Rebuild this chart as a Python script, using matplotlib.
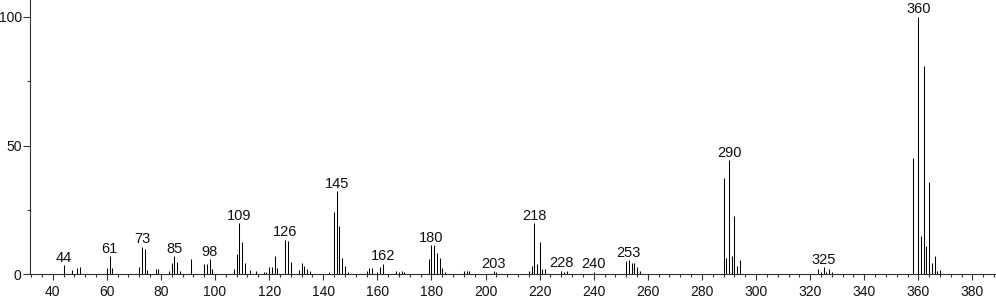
import matplotlib
matplotlib.use("Agg")
import matplotlib.pyplot as plt
from matplotlib.ticker import MultipleLocator

plt.rcParams['font.family'] = ['Liberation Sans', 'DejaVu Sans']

mz = [44, 47, 49, 50, 60, 61, 62, 72, 73, 74, 75, 78, 79, 83, 84, 85, 86, 87, 91,
      96, 97, 98, 99, 107, 108, 109, 110, 111, 113, 115, 118, 119, 120, 121, 122, 123,
      126, 127, 128, 131, 132, 133, 134, 135, 142, 144, 145, 146, 147, 148, 149,
      156, 157, 158, 160, 161, 162, 167, 168, 169, 170, 179, 180, 181, 182, 183, 184, 185,
      192, 193, 194, 203, 204, 216, 217, 218, 219, 220, 221, 222, 228, 229, 230, 240,
      252, 253, 254, 255, 256, 257, 288, 289, 290, 291, 292, 293, 294,
      323, 324, 325, 326, 327, 328, 358, 360, 361, 362, 363, 364, 365, 366, 367, 368]
intensity = [3.5, 1.7, 2.3, 2.7, 2.3, 7.0, 2.3, 2.8, 10.7, 10.0, 1.5, 2.2, 2.2, 1.3, 4.3, 7.0, 4.8, 1.3, 5.9,
             3.9, 4.0, 5.9, 2.1, 2.2, 7.8, 19.8, 12.7, 4.2, 1.5, 1.2, 0.8, 1.0, 2.7, 2.7, 7.0, 2.5,
             13.5, 13.0, 4.6, 1.6, 4.2, 3.2, 2.2, 1.2, 0.8, 24.3, 32.4, 18.7, 6.3, 3.2, 1.0,
             1.3, 2.5, 2.5, 1.0, 3.0, 4.1, 1.3, 1.0, 1.3, 1.0, 6.0, 11.2, 11.2, 8.3, 6.3, 2.6, 1.0,
             1.3, 1.3, 1.3, 1.2, 0.8, 1.4, 3.2, 19.8, 4.0, 12.5, 2.2, 2.2, 1.4, 0.9, 1.3, 1.0,
             5.2, 5.5, 4.3, 4.3, 2.7, 1.3, 37.2, 6.2, 44.3, 7.1, 22.6, 3.2, 5.5,
             2.2, 0.8, 2.8, 1.0, 2.1, 0.8, 45.0, 100.0, 14.9, 80.7, 11.0, 35.9, 4.3, 7.1, 1.4, 1.7]
label_mz = [44, 61, 73, 85, 98, 109, 126, 145, 162, 180, 203, 218, 228, 240, 253, 290, 325, 360]
x_ticks = list(range(40, 381, 20))
y_ticks = [0, 50, 100]

W, H = 996, 299
fig = plt.figure(figsize=(W / 100, H / 100), dpi=100)
ax = fig.add_axes([30 / W, (H - 274.3) / H, (W - 30) / W, 274.3 / H])

ax.vlines(mz, 0, intensity, colors='black', linewidth=0.75)

lookup = dict(zip(mz, intensity))
for m in label_mz:
    ax.annotate(str(m), (m, lookup[m]), xytext=(0, 2.4), textcoords='offset points',
                ha='center', va='baseline', fontsize=10.5, color='#111111')

ax.set_xlim(31.6, 388.7)
ax.set_ylim(0, 106.5)
ax.set_xticks(x_ticks)
ax.set_yticks(y_ticks)
ax.xaxis.set_minor_locator(MultipleLocator(4))
ax.yaxis.set_minor_locator(MultipleLocator(25))

for s in ['top', 'right']:
    ax.spines[s].set_visible(False)
for s in ['left', 'bottom']:
    ax.spines[s].set_linewidth(0.8)
    ax.spines[s].set_color('#333333')

ax.tick_params(axis='x', which='major', length=4.3, width=0.8, pad=3.5, labelsize=10, color='#333333', labelcolor='#111111')
ax.tick_params(axis='x', which='minor', length=2.2, width=0.8, color='#333333')
ax.tick_params(axis='y', which='major', length=5.0, width=0.8, pad=1.0, labelsize=10, color='#333333', labelcolor='#111111')
ax.tick_params(axis='y', which='minor', length=2.2, width=0.8, color='#333333')
ax.patch.set_visible(False)

fig.savefig('out.png', dpi=100)
